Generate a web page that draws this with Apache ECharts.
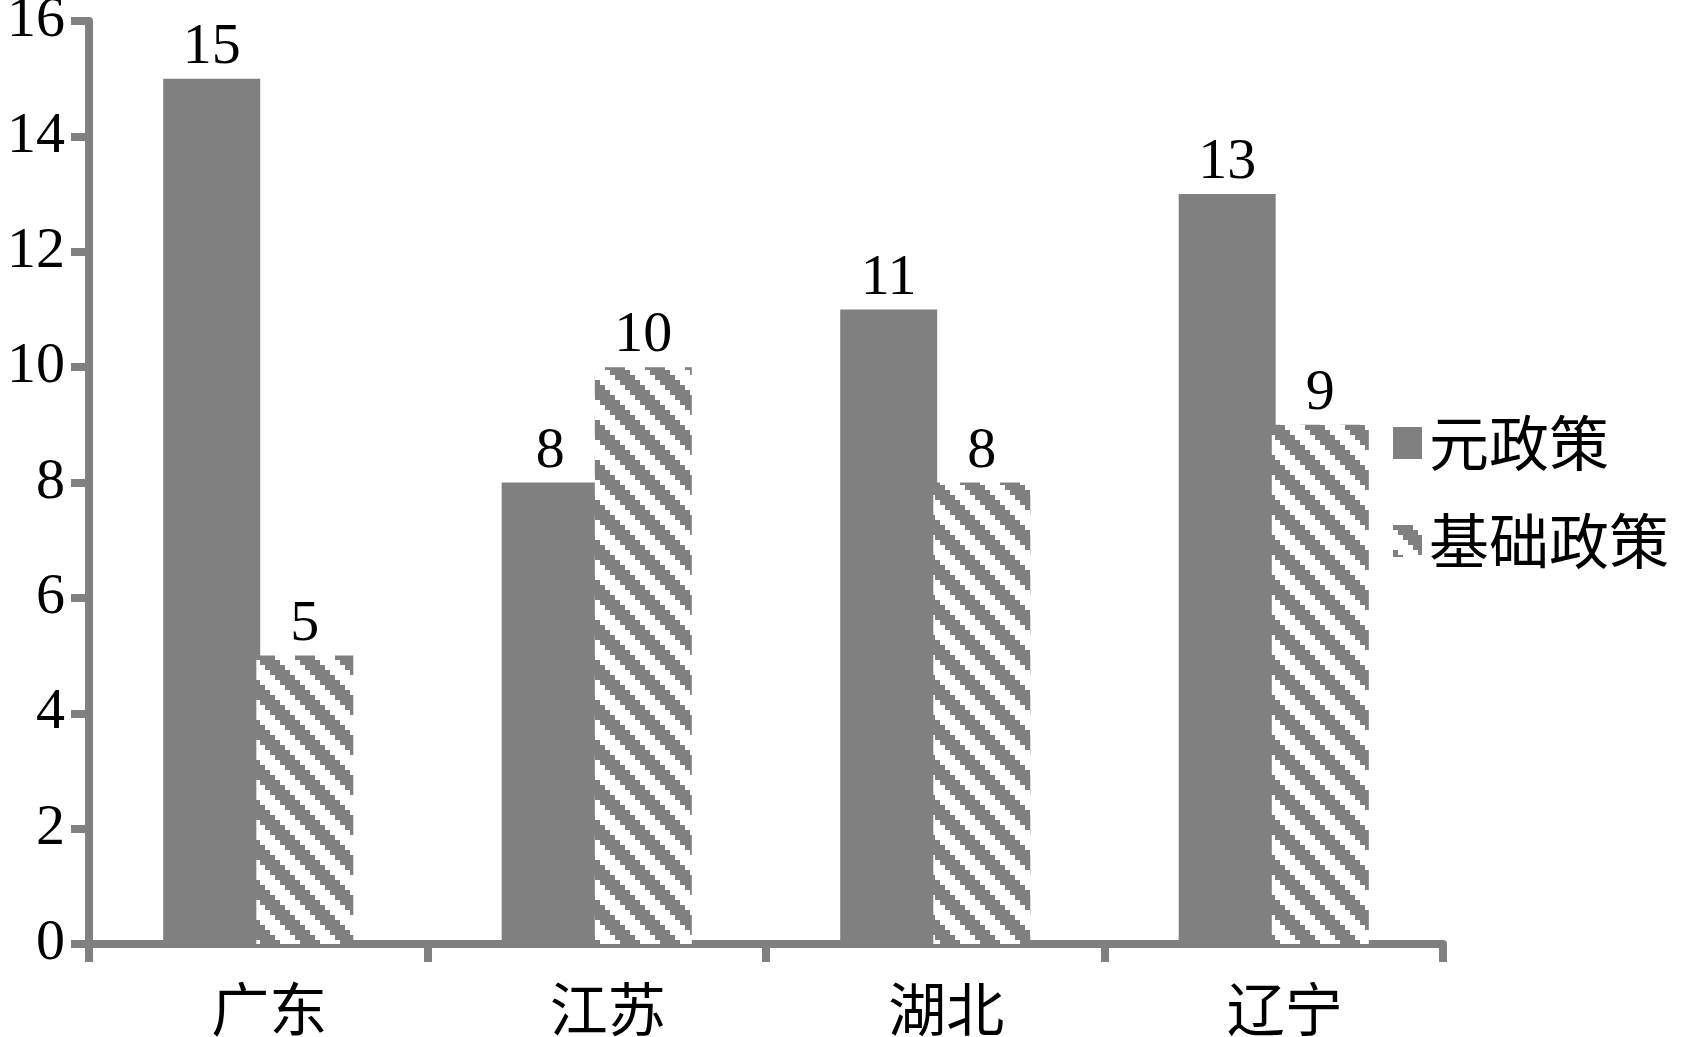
<!DOCTYPE html>
<html>
<head>
<meta charset="utf-8">
<style>
  html, body { margin: 0; padding: 0; background: #ffffff; }
  #chart { width: 1687px; height: 1037px; }
</style>
<script src="https://cdn.jsdelivr.net/npm/echarts@6/dist/echarts.min.js"></script>
</head>
<body>
<div id="chart"></div>
<script>
// ---- data ----
const categories = ['广东', '江苏', '湖北', '辽宁'];
const seriesNames = ['元政策', '基础政策'];
const yuanValues = [15, 8, 11, 13];
const jichuValues = [5, 10, 8, 9];
const yTicks = [0, 2, 4, 6, 8, 10, 12, 14, 16];

// ---- hatch pattern (gray "\" stripes on white) ----
function makeHatch() {
  const size = 40;
  const c = document.createElement('canvas');
  c.width = size; c.height = size;
  const ctx = c.getContext('2d');
  const img = ctx.createImageData(size, size);
  for (let y = 0; y < size; y++) {
    for (let x = 0; x < size; x++) {
      const q = Math.floor(x / 5) * 5 - Math.floor(y / 5) * 5;
      const m = ((q % size) + size) % size;
      const on = m < 20;
      const v = on ? 128 : 255;
      const i = (y * size + x) * 4;
      img.data[i] = v; img.data[i + 1] = v; img.data[i + 2] = v; img.data[i + 3] = 255;
    }
  }
  ctx.putImageData(img, 0, 0);
  return c;
}
const hatch = makeHatch();

const GRAY = '#808080';
const SERIF = "'Liberation Serif', 'Times New Roman', serif";
const CJK = "'Noto Sans CJK SC', sans-serif";

const chart = echarts.init(document.getElementById('chart'), null, { renderer: 'canvas' });
chart.setOption({
  backgroundColor: '#ffffff',
  animation: false,
  grid: { left: 89, right: 244, top: 21, bottom: 93, containLabel: false, outerBoundsMode: 'none' },
  legend: {
    orient: 'vertical',
    left: 1388,
    top: 407,
    itemWidth: 29,
    itemHeight: 32,
    itemGap: 36,
    icon: 'rect',
    data: seriesNames,
    textStyle: {
      fontFamily: CJK,
      fontSize: 60,
      lineHeight: 62,
      color: '#000',
      padding: [0, 0, 0, 2]
    }
  },
  xAxis: {
    type: 'category',
    data: categories,
    boundaryGap: true,
    axisLine: { show: true, lineStyle: { color: GRAY, width: 8 } },
    axisTick: { show: true, alignWithLabel: false, interval: 0, length: 18, lineStyle: { color: GRAY, width: 8 } },
    axisLabel: {
      interval: 0,
      margin: 36,
      fontFamily: CJK,
      fontSize: 58,
      color: '#000',
      padding: [0, 0, 0, 22]
    },
    splitLine: { show: false }
  },
  yAxis: {
    type: 'value',
    min: yTicks[0],
    max: yTicks[yTicks.length - 1],
    interval: 2,
    axisLine: { show: true, lineStyle: { color: GRAY, width: 8 } },
    axisTick: { show: true, length: 18, lineStyle: { color: GRAY, width: 8 } },
    axisLabel: {
      margin: 24,
      fontFamily: SERIF,
      fontSize: 58,
      color: '#000'
    },
    splitLine: { show: false }
  },
  series: [
    {
      name: seriesNames[0],
      type: 'bar',
      data: yuanValues,
      barWidth: 97,
      barGap: '-4%',
      itemStyle: { color: GRAY },
      label: {
        show: true,
        position: 'top',
        distance: 2,
        fontFamily: SERIF,
        fontSize: 58,
        color: '#000'
      }
    },
    {
      name: seriesNames[1],
      type: 'bar',
      data: jichuValues,
      barWidth: 97,
      barGap: '-4%',
      itemStyle: { color: { image: hatch, repeat: 'repeat' } },
      label: {
        show: true,
        position: 'top',
        distance: 2,
        fontFamily: SERIF,
        fontSize: 58,
        color: '#000'
      }
    }
  ]
});
</script>
</body>
</html>
